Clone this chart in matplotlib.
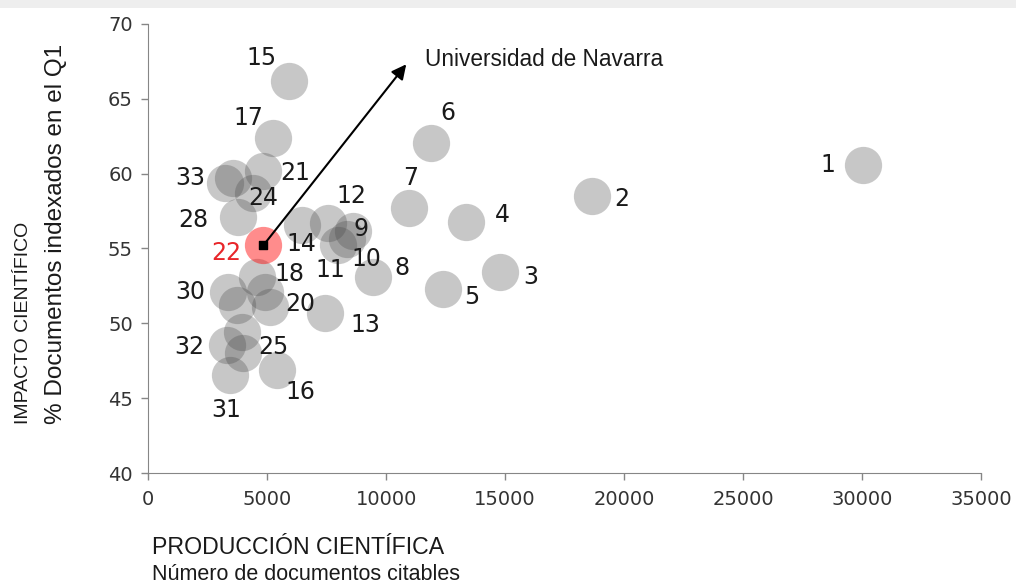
import matplotlib.pyplot as plt
from matplotlib.patches import Rectangle

# Universidades: producción (documentos citables) vs impacto (% en Q1)
ids = ['1', '2', '3', '4', '5', '6', '7', '8', '9', '10', '11', '12', '13', '14', '15', '16',
       '17', '18', '19', '20', '21', '22', '23', '24', '25', '26', '27', '28', '30', '31', '32', '33']
produccion = [30030, 18640, 14790, 13350, 12410, 11880, 10980, 9440, 8630, 8350, 8000, 7580, 7440, 6460, 5940, 5410,
              5240, 4570, 3580, 5130, 4850, 4840, 4920, 4420, 4000, 3730, 3940, 3790, 3370, 3450, 3310, 3240]
impacto = [60.6, 58.5, 53.45, 56.75, 52.3, 62.05, 57.7, 53.1, 56.2, 55.6, 55.2, 56.7, 50.7, 56.55, 66.2, 46.9,
           62.35, 53.1, 59.7, 51.1, 60.2, 55.2, 52.1, 58.7, 48.0, 51.2, 49.4, 57.1, 52.1, 46.55, 48.55, 59.35]
sin_etiqueta = ['19', '23', '26', '27']
destacada = '22'

xticks = [0, 5000, 10000, 15000, 20000, 25000, 30000, 35000]
yticks = [40, 45, 50, 55, 60, 65, 70]

# label offsets in pixels (dx right, dy down) from the bubble centre
offsets = {
    '1': (-35, 0), '2': (30, 3), '3': (31, 5), '4': (37, -7), '5': (28, 8), '6': (17, -30),
    '7': (1, -30), '8': (29, -9), '9': (8, -2), '10': (20, 20), '11': (-8, 25), '12': (23, -27),
    '13': (40, 12), '14': (0, 19), '15': (-28, -23), '16': (24, 22), '17': (-24, -20), '18': (33, -3),
    '20': (30, -3), '21': (32, 2), '22': (-37, 8), '24': (10, 5), '25': (30, -6), '28': (-45, 3),
    '30': (-38, 0), '31': (-4, 35), '32': (-38, 2), '33': (-35, -5),
}

plt.rcParams['font.family'] = ['Liberation Sans', 'DejaVu Sans']

fig = plt.figure(figsize=(10.16, 5.87), dpi=100)
fig.patches.append(Rectangle((0, 0.986), 1, 0.014, transform=fig.transFigure,
                             facecolor='#eeeeee', edgecolor='none'))
ax = fig.add_axes([0.1457, 0.1942, 0.820, 0.765])

for i, name in enumerate(ids):
    if name == destacada:
        ax.scatter(produccion[i], impacto[i], s=720, color='red', alpha=0.45, linewidths=0, zorder=3)
        ax.scatter(produccion[i], impacto[i], s=40, marker='s', color='black', zorder=5)
    else:
        ax.scatter(produccion[i], impacto[i], s=720, color='#484848', alpha=0.3, linewidths=0, zorder=2)

for i, name in enumerate(ids):
    if name in sin_etiqueta:
        continue
    dx, dy = offsets[name]
    ax.annotate(name, (produccion[i], impacto[i]), xytext=(dx, -dy), textcoords='offset pixels',
                ha='center', va='center', fontsize=17, family='DejaVu Sans',
                color='#e8262a' if name == destacada else '#1a1a1a', zorder=6)

# arrow towards Universidad de Navarra
k = ids.index(destacada)
ax.annotate('', xy=(10920, 67.45), xytext=(produccion[k], impacto[k]),
            arrowprops=dict(arrowstyle='-|>', color='black', lw=1.5, mutation_scale=22), zorder=6)
ax.text(11640, 67.6, 'Universidad de Navarra', fontsize=16.3, color='#1a1a1a', va='center', ha='left')

ax.set_xlim(0, 35000)
ax.set_ylim(40, 70)
ax.set_xticks(xticks)
ax.set_yticks(yticks)
ax.tick_params(axis='both', colors='#868686', length=5, width=1, labelcolor='#333333', labelsize=14)
ax.tick_params(axis='x', pad=7)
ax.tick_params(axis='y', pad=6)
for lbl in ax.get_xticklabels() + ax.get_yticklabels():
    lbl.set_family('DejaVu Sans')
for side in ['top', 'right']:
    ax.spines[side].set_visible(False)
for side in ['left', 'bottom']:
    ax.spines[side].set_color('#868686')

fig.text(152 / 1016, 1 - 547 / 587, 'PRODUCCIÓN CIENTÍFICA', fontsize=16.7, ha='left', va='center',
         color='#1a1a1a')
fig.text(152 / 1016, 1 - 574 / 587, 'Número de documentos citables', fontsize=15.5, ha='left', va='center',
         color='#1a1a1a')
fig.text(24 / 1016, 1 - 424 / 587, 'IMPACTO CIENTÍFICO', fontsize=14, rotation=90, ha='center', va='bottom',
         color='#1a1a1a')
fig.text(56 / 1016, 1 - 424 / 587, '% Documentos indexados en el Q1', fontsize=17.5, rotation=90, ha='center',
         va='bottom', color='#1a1a1a')

fig.savefig('out.png', dpi=100)
